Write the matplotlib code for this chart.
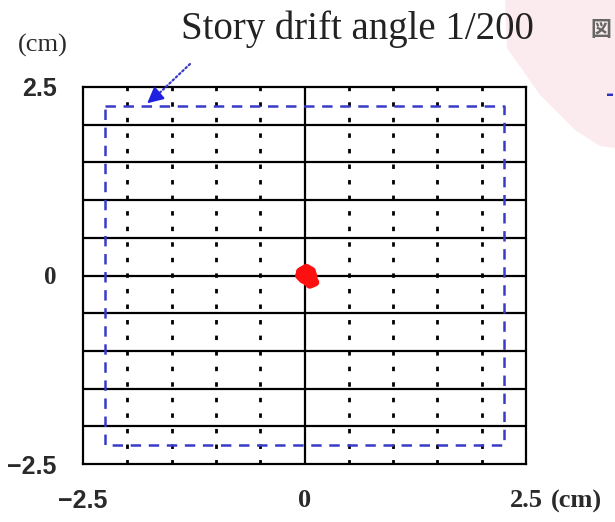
import matplotlib
matplotlib.use("Agg")
import matplotlib.pyplot as plt
from matplotlib.patches import Polygon
import numpy as np

plt.rcParams['lines.scale_dashes'] = False

# Axis range and reference grid (cm)
x_range = [-2.5, 2.5]
y_range = [-2.5, 2.5]
grid_h = [-2.0, -1.5, -1.0, -0.5, 0.0, 0.5, 1.0, 1.5, 2.0]
grid_v = [-2.0, -1.5, -1.0, -0.5, 0.5, 1.0, 1.5, 2.0]

# Allowable displacement at story drift angle 1/200 (cm)
drift_limit = 2.25

# Measured roof displacement trace (cm)
trace_x = [-0.05, 0.02, 0.08, 0.10, 0.05, -0.02, -0.06, -0.03, 0.04, 0.09, 0.12, 0.06, -0.01]
trace_y = [0.05, 0.10, 0.06, -0.02, -0.07, -0.05, 0.00, 0.06, 0.03, -0.04, -0.09, -0.12, -0.04]

xtick_vals = [-2.5, 0, 2.5]
xtick_labels = ["\u22122.5", "0", "2.5"]
ytick_vals = [-2.5, 0, 2.5]
ytick_labels = ["\u22122.5", "0", "2.5"]

fig = plt.figure(figsize=(6.15, 5.22), dpi=100)

# Pale pink backdrop in the upper-right corner
pink = Polygon([(505/615, 1.0), (507/615, 1 - 48/522), (540/615, 1 - 95/522),
                (575/615, 1 - 130/522), (600/615, 1 - 146/522), (615/615, 1 - 148/522),
                (1.0, 1.0)], closed=True, transform=fig.transFigure,
               facecolor="#fcebee", edgecolor="none", zorder=0)
fig.patches.append(pink)
fig.text(590/615, 1 - 30/522, "図", family=["Noto Sans CJK JP", "DejaVu Sans"],
         fontsize=15, fontweight="bold", color="#666666", ha="left", va="center")
fig.text(606/615, 1 - 95/522, "-", fontsize=14, color="#3030c0", ha="left", va="center",
         fontweight="bold")

ax = fig.add_axes([83/615, 1 - 464/522, 443/615, 377/522])
ax.set_xlim(*x_range)
ax.set_ylim(*y_range)

for y in grid_h:
    ax.axhline(y, color="black", lw=1.6, zorder=1)
ax.axvline(0, color="black", lw=1.6, zorder=1)
for x in grid_v:
    ax.axvline(x, color="black", lw=2.0, linestyle=(0, (3.2, 8.0)), zorder=1)

# Drift-angle limit square
sq_x = [-drift_limit, drift_limit, drift_limit, -drift_limit, -drift_limit]
sq_y = [drift_limit, drift_limit, -drift_limit, -drift_limit, drift_limit]
ax.plot(sq_x, sq_y, color="#3a3ac8", lw=1.8, linestyle=(0, (7.5, 5.5)), zorder=2)

# Response trace
ax.plot(trace_x, trace_y, color="#ff1010", lw=6, solid_capstyle="round",
        solid_joinstyle="round", zorder=3)

for s in ax.spines.values():
    s.set_linewidth(1.6)
    s.set_color("black")

ax.set_xticks(xtick_vals)
ax.set_xticklabels(xtick_labels)
ax.set_yticks(ytick_vals)
ax.set_yticklabels(ytick_labels)
ax.tick_params(length=0)
ax.tick_params(axis="y", pad=19)
ax.tick_params(axis="x", pad=18)

for lab in ax.get_yticklabels():
    lab.set_fontfamily("Liberation Sans")
    lab.set_fontweight("bold")
    lab.set_fontsize(18)
    lab.set_color("#2a2a2a")
ax.get_yticklabels()[1].set_fontfamily("Liberation Serif")

xl = ax.get_xticklabels()
xl[0].set_fontfamily("Liberation Sans")
xl[0].set_fontweight("bold")
xl[0].set_fontsize(18)
xl[1].set_fontfamily("Liberation Serif")
xl[1].set_fontweight("bold")
xl[1].set_fontsize(19)
xl[2].set_fontfamily("Liberation Serif")
xl[2].set_fontweight("bold")
xl[2].set_fontsize(19)
for lab in xl:
    lab.set_color("#2a2a2a")

# Units
fig.text(551/615, 1 - 501/522, "(cm)", family="Liberation Serif", fontweight="bold",
         fontsize=19, color="#2a2a2a", ha="left", va="center")
fig.text(43/615, 1 - 45/522, "(cm)", family="Liberation Serif",
         fontsize=19, color="#2a2a2a", ha="center", va="center")

# Annotation
fig.text(357/615, 1 - 29/522, "Story drift angle 1/200", family="Liberation Serif",
         fontsize=28, color="#222222", ha="center", va="center")
ax.annotate("", xy=(-1.70, 2.35), xytext=(-1.27, 2.83),
            arrowprops=dict(arrowstyle="-", color="#3a3ac8", lw=1.6, linestyle=(0, (1.2, 2.0))),
            annotation_clip=False)
ax.annotate("", xy=(-1.8, 2.26), xytext=(-1.62, 2.44),
            arrowprops=dict(arrowstyle="-|>", color="#2020e0", lw=1.5, mutation_scale=24),
            annotation_clip=False)

fig.savefig("out.png", dpi=100)
